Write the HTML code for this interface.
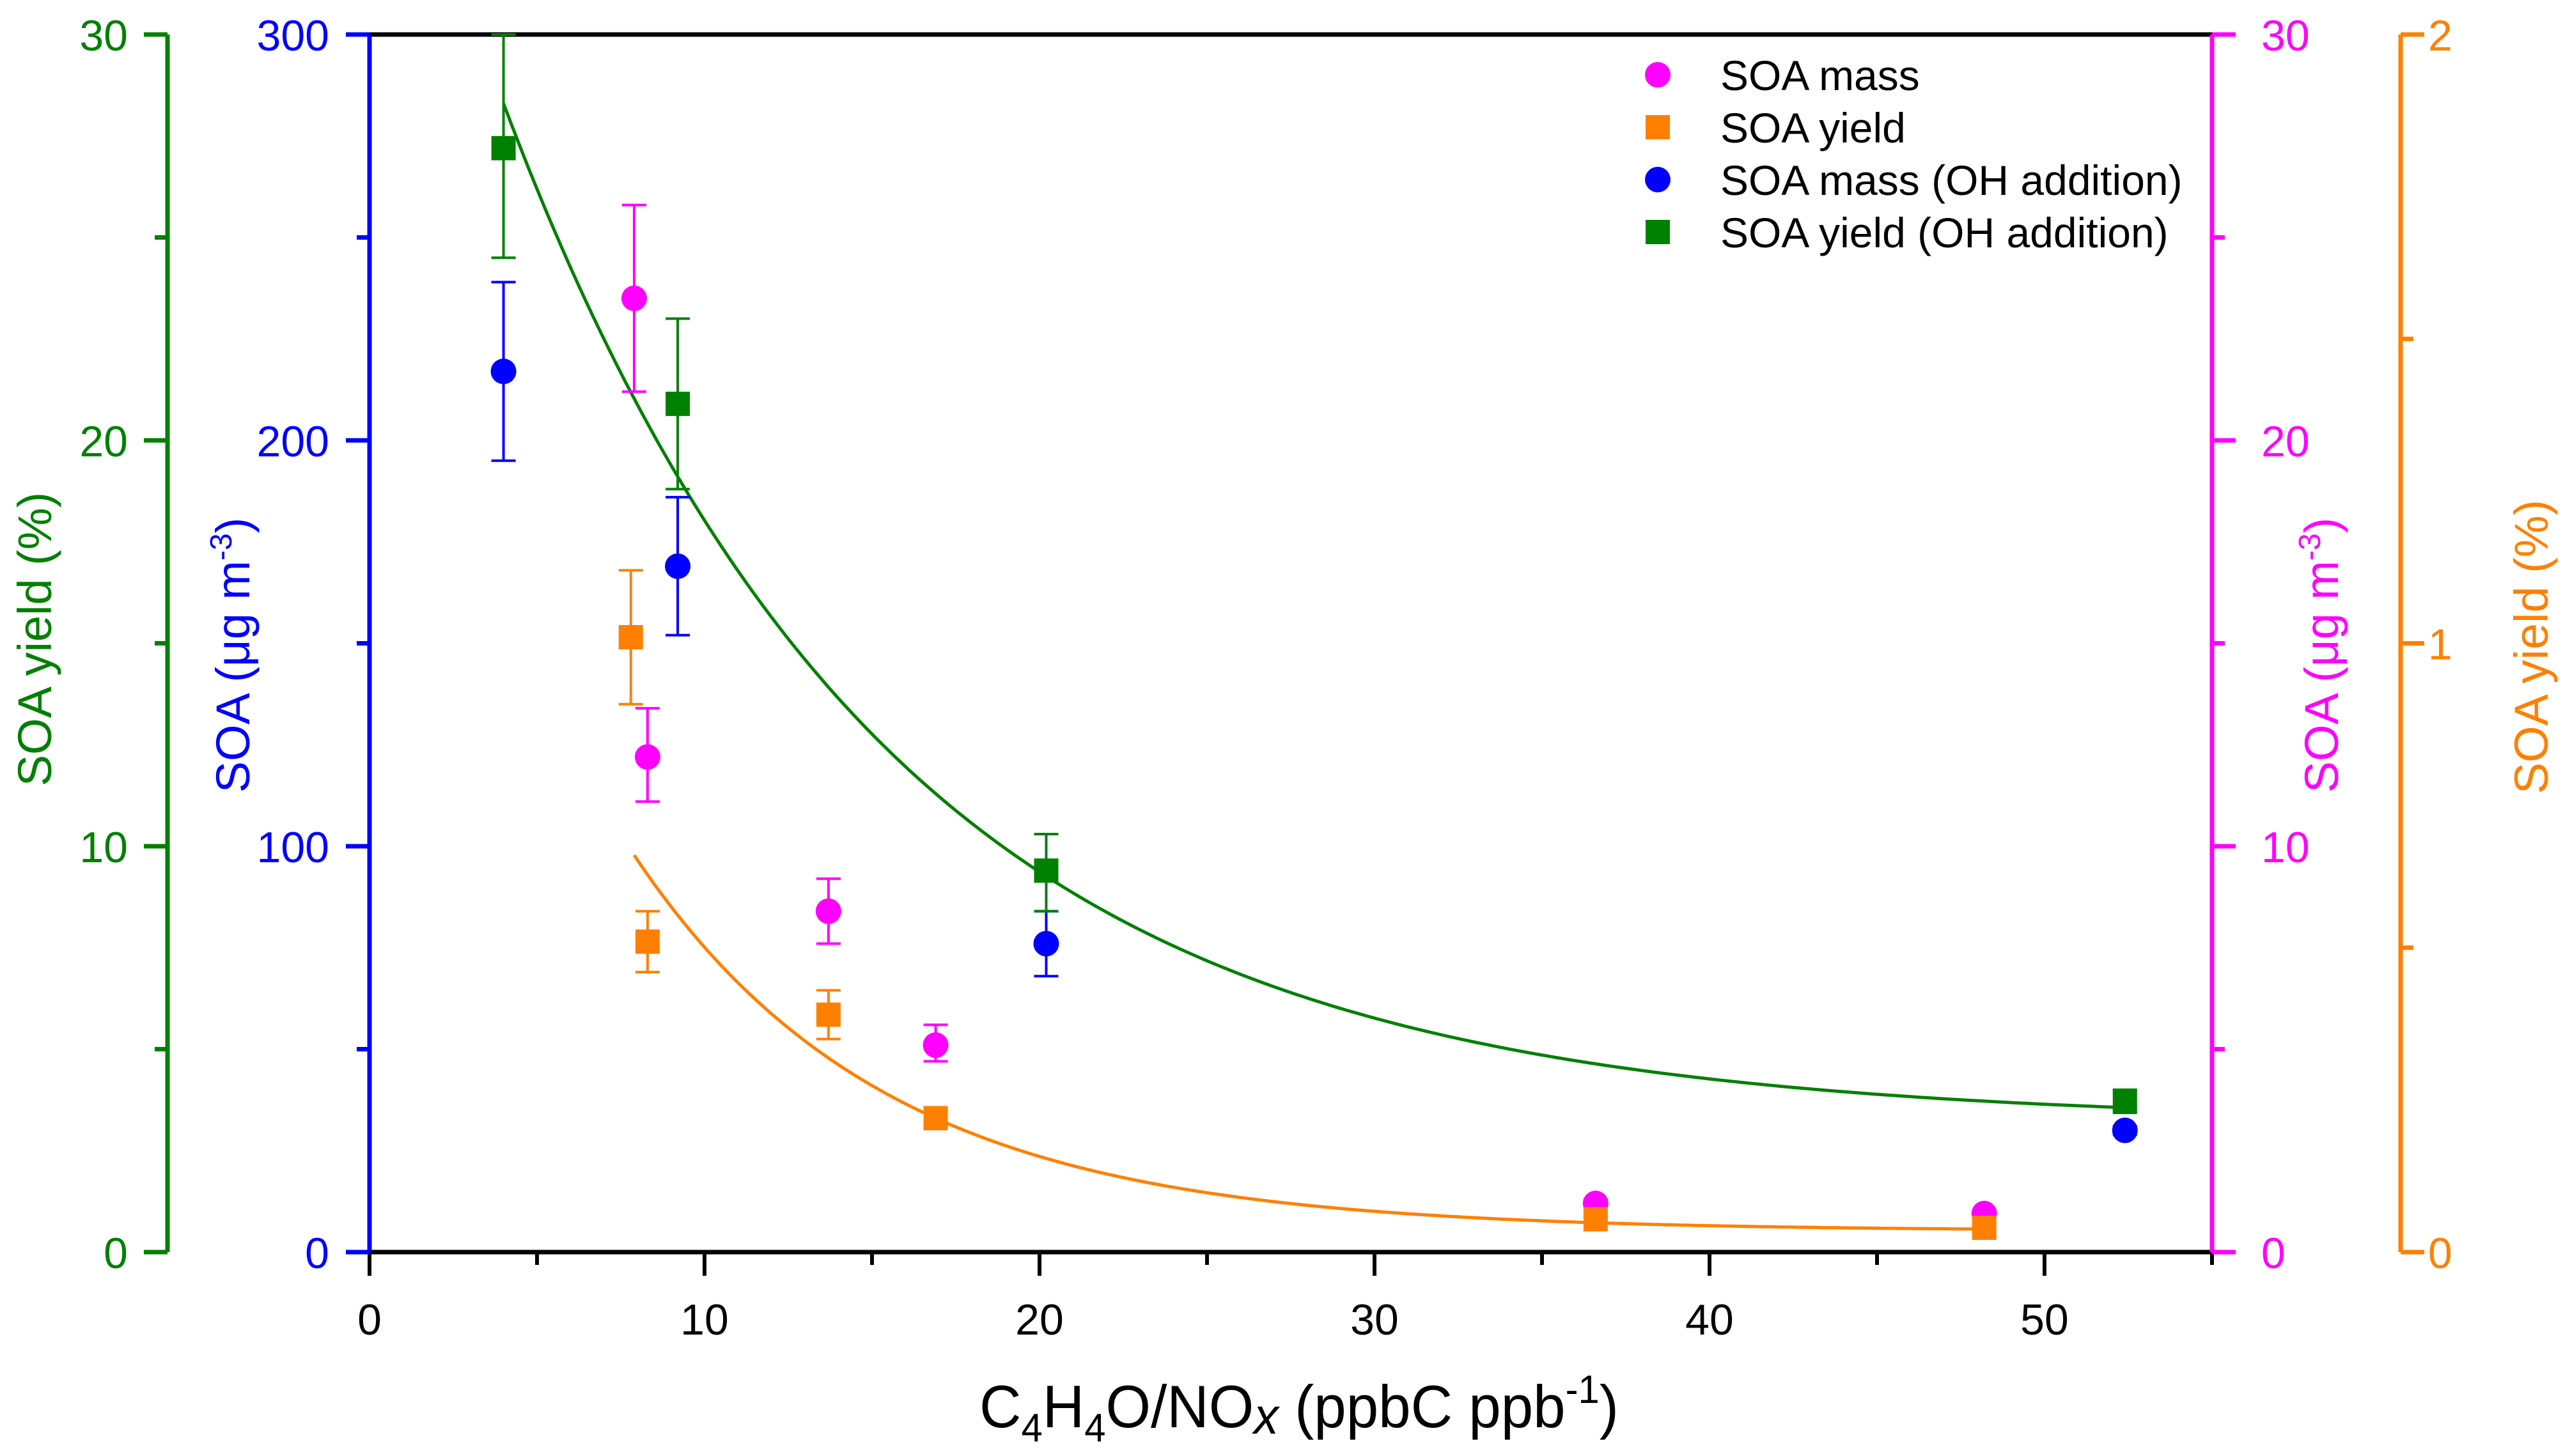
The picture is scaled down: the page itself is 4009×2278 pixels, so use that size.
<!DOCTYPE html>
<html><head><meta charset="utf-8"><style>
html,body{margin:0;padding:0;background:#fff;}
svg{display:block;font-family:"Liberation Sans",Arial,sans-serif;}
</style></head><body>
<svg id="chart" width="4009" height="2278" viewBox="0 0 4009 2278" xmlns="http://www.w3.org/2000/svg">
<g id="axes"></g><g id="marks"></g><g id="legend"></g>
</svg>
<script>
// ---- data ----
const greenX = [4.0, 9.2, 20.2, 52.4];
const greenY = [27.2, 20.9, 9.4, 3.7];
const greenLo = [24.5, 18.8, 8.4, 3.5];
const greenHi = [30.0, 23.0, 10.3, 4.0];
const blueX = [4.0, 9.2, 20.2, 52.4];
const blueY = [217, 169, 76, 30];
const blueLo = [195, 152, 68, 29];
const blueHi = [239, 186, 84, 31];
const pinkX = [7.9, 8.3, 13.7, 16.9, 36.6, 48.2];
const pinkY = [23.5, 12.2, 8.4, 5.1, 1.2, 0.95];
const pinkLo = [21.2, 11.1, 7.6, 4.7, 1.1, 0.9];
const pinkHi = [25.8, 13.4, 9.2, 5.6, 1.3, 1.0];
const orangeX = [7.8, 8.3, 13.7, 16.9, 36.6, 48.2];
const orangeY = [1.01, 0.51, 0.39, 0.22, 0.054, 0.04];
const orangeLo = [0.90, 0.46, 0.35, 0.21, 0.05, 0.036];
const orangeHi = [1.12, 0.56, 0.43, 0.23, 0.058, 0.044];
// fit curves: c + A*exp(-x/t)
const greenFit = {c:3.2, A:25.1*Math.exp(4/11.4), t:11.4, x0:4.0, x1:52.4};
const orangeFit = {c:0.035, A:0.617*Math.exp(7.9/7.47), t:7.47, x0:7.9, x1:48.2};
const xTicks = [0,10,20,30,40,50];

// ---- geometry ----
const L=578, R=3460, T=54, B=1959;
const xs = v => L + v/55*(R-L);
const yG = v => B - v/30*(B-T);
const yB = v => B - v/300*(B-T);
const yP = v => B - v/30*(B-T);
const yO = v => B - v/2*(B-T);
const NS="http://www.w3.org/2000/svg";
function mk(tag, attrs, parent){const e=document.createElementNS(NS,tag);for(const k in attrs)e.setAttribute(k,attrs[k]);parent.appendChild(e);return e;}
const axes=document.getElementById('axes'), marks=document.getElementById('marks'), legend=document.getElementById('legend');

// x axis
let e=mk('line',{x1:L,y1:B,x2:R,y2:B,stroke:'#000','stroke-width':7},axes);

e=mk('line',{x1:L,y1:T,x2:R,y2:T,stroke:'#000','stroke-width':7},axes);

for(let v=0;v<=55;v+=5){
  const major=v%10===0;
  e=mk('line',{x1:xs(v),y1:B,x2:xs(v),y2:B+(major?37:20),stroke:'#000','stroke-width':6},axes);
  
}
xTicks.forEach(v=>{
  e=mk('text',{x:xs(v),y:2088,'font-size':68,'text-anchor':'middle',fill:'#000'},axes);e.textContent=v;
  
});
e=mk('text',{x:2032,y:2233,'font-size':94,'text-anchor':'middle',fill:'#000',textLength:1000,lengthAdjust:'spacingAndGlyphs'},axes);
e.innerHTML='C<tspan font-size="62" dy="22">4</tspan><tspan dy="-22">H</tspan><tspan font-size="62" dy="22">4</tspan><tspan dy="-22">O/NO</tspan><tspan font-style="italic" font-size="80" dy="10">x</tspan><tspan dy="-10"> (ppbC ppb</tspan><tspan font-size="62" dy="-38">-1</tspan><tspan dy="38">)</tspan>';


// vertical axes builder
function vaxis(x,color,side,max,majorStep,minorStep,fmt,labelX,name){
  let a=mk('line',{x1:x,y1:T,x2:x,y2:B,stroke:color,'stroke-width':7},axes);
  
  const n=Math.round(max/minorStep);
  for(let i=0;i<=n;i++){
    const v=i*minorStep, y=B-v/max*(B-T);
    const major=Math.abs(v/majorStep-Math.round(v/majorStep))<1e-6;
    const len=major?37:20;
    let t=mk('line',{x1:x,y1:y,x2:x+side*len,y2:y,stroke:color,'stroke-width':7},axes);
    
    if(major){
      let lb=mk('text',{x:labelX,y:y+25,'font-size':68,'text-anchor':side<0?'end':'start',fill:color},axes);
      lb.textContent=fmt(v);
      
    }
  }
}
vaxis(262,'#008000',-1,30,10,5,v=>v,200,'left-yield-axis');
vaxis(578,'#0000ff',-1,300,100,50,v=>v,515,'left-mass-axis');
vaxis(3460,'#ff00ff',1,30,10,5,v=>v,3537,'right-mass-axis');
vaxis(3755,'#ff8000',1,2,1,0.5,v=>v,3798,'right-yield-axis');

function ytitle(x,y,color,html,name){
  let t=mk('text',{x:x,y:y,'font-size':74,'text-anchor':'middle',fill:color,transform:`rotate(-90 ${x} ${y})`},axes);
  t.innerHTML=html;
}
ytitle(80,1000,'#008000','SOA yield (%)','left-yield-axis-title');
ytitle(390,1025,'#0000ff','SOA (μg m<tspan font-size="48" dy="-28">-3</tspan><tspan dy="28">)</tspan>','left-mass-axis-title');
ytitle(3657,1025,'#ff00ff','SOA (μg m<tspan font-size="48" dy="-28">-3</tspan><tspan dy="28">)</tspan>','right-mass-axis-title');
ytitle(3985,1012,'#ff8000','SOA yield (%)','right-yield-axis-title');

// fits
function fit(f,ys,color,name){
  let d='';for(let i=0;i<=200;i++){const x=f.x0+(f.x1-f.x0)*i/200;const y=f.c+f.A*Math.exp(-x/f.t);d+=(i?'L':'M')+xs(x).toFixed(1)+','+ys(y).toFixed(1);}
  let p=mk('path',{d:d,fill:'none',stroke:color,'stroke-width':5},marks);
  
}
fit(greenFit,yG,'#008000','yield-oh-fit-curve');
fit(orangeFit,yO,'#ff8000','yield-fit-curve');

function series(X,Y,LO,HI,ys,color,shape,name){
  X.forEach((xv,i)=>{
    const cx=xs(xv),cy=ys(Y[i]),y1=ys(HI[i]),y2=ys(LO[i]);
    let l=mk('line',{x1:cx,y1:y1,x2:cx,y2:y2,stroke:color,'stroke-width':4},marks);
    
    [y1,y2].forEach(yy=>{let c=mk('line',{x1:cx-19,y1:yy,x2:cx+19,y2:yy,stroke:color,'stroke-width':4},marks);
      });
    let m= shape==='sq'? mk('rect',{x:cx-19,y:cy-19,width:38,height:38,fill:color},marks)
                       : mk('circle',{cx:cx,cy:cy,r:20,fill:color},marks);
    
  });
}
series(pinkX,pinkY,pinkLo,pinkHi,yP,'#ff00ff','c','soa-mass');
series(orangeX,orangeY,orangeLo,orangeHi,yO,'#ff8000','sq','soa-yield');
series(blueX,blueY,blueLo,blueHi,yB,'#0000ff','c','soa-mass-oh');
series(greenX,greenY,greenLo,greenHi,yG,'#008000','sq','soa-yield-oh');

// legend
const legLabels=['SOA mass','SOA yield','SOA mass (OH addition)','SOA yield (OH addition)'];
const legColors=['#ff00ff','#ff8000','#0000ff','#008000'];
const legShapes=['c','sq','c','sq'];
legLabels.forEach((lab,i)=>{
  const y=117+i*82;
  let m= legShapes[i]==='sq'? mk('rect',{x:2574,y:y-19,width:38,height:38,fill:legColors[i]},legend)
                            : mk('circle',{cx:2593,cy:y,r:20,fill:legColors[i]},legend);
  
  let t=mk('text',{x:2691,y:y+24,'font-size':66,fill:'#000'},legend);t.textContent=lab;
  
});
</script>
</body></html>
